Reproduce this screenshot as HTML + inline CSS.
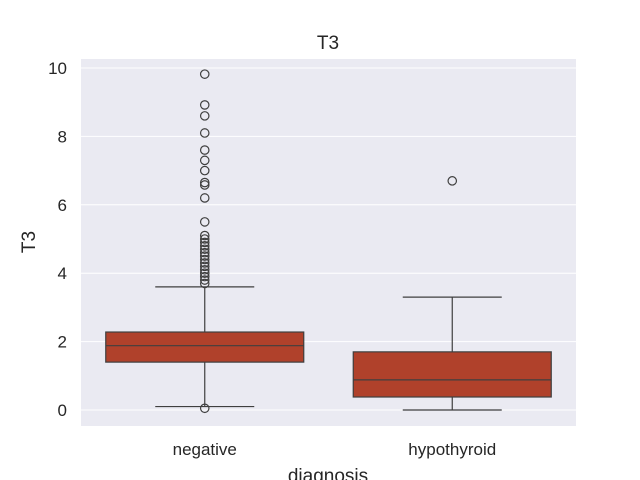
<!DOCTYPE html>
<html><head><meta charset="utf-8"><style>
body{margin:0;background:#fff;font-family:"Liberation Sans","DejaVu Sans",sans-serif}
svg{display:block}
</style></head><body>
<svg id="chart" width="640" height="480"></svg>
<script>
const categories=["negative","hypothyroid"];
const q1=[1.4,0.38];
const median=[1.88,0.88];
const q3=[2.28,1.7];
const whiskerLow=[0.1,0.0];
const whiskerHigh=[3.6,3.3];
const outliersNegative=[9.82,8.92,8.6,8.1,7.6,7.3,7.0,6.65,6.58,6.2,5.5,5.1,5.0,4.9,4.8,4.7,4.6,4.5,4.4,4.3,4.2,4.1,4.0,3.9,3.8,3.7,0.05];
const outliersHypothyroid=[6.7];
const yTicks=[0,2,4,6,8,10];

const NS="http://www.w3.org/2000/svg";
const svg=document.getElementById("chart");
const L=81,R=576,T=59,B=426;
const y=v=>410-v*34.2;
const bandW=(R-L)/categories.length;
const xc=i=>L+bandW*(i+0.5);
function el(tag,a,parent){const e=document.createElementNS(NS,tag);for(const k in a)e.setAttribute(k,a[k]);(parent||svg).appendChild(e);return e;}

const bg=el("rect",{x:L,y:T,width:R-L,height:B-T,fill:"#eaeaf2"});


yTicks.forEach(t=>{
  const g=el("line",{x1:L,x2:R,y1:y(t),y2:y(t),stroke:"#fff","stroke-width":1});
  
  
  const tx=el("text",{x:67,y:y(t)+6,"text-anchor":"end","font-size":17,fill:"#262626"});
  tx.textContent=t;
  
  
});
const allOut=[outliersNegative,outliersHypothyroid];
categories.forEach((c,i)=>{
  const cx=xc(i),hw=bandW*0.4,col="#3f3f3f";
  const g=el("g",{});
  
  
  el("line",{x1:cx,x2:cx,y1:y(q3[i]),y2:y(whiskerHigh[i]),stroke:col,"stroke-width":1.2},g);
  el("line",{x1:cx,x2:cx,y1:y(q1[i]),y2:y(whiskerLow[i]),stroke:col,"stroke-width":1.2},g);
  el("line",{x1:cx-hw/2,x2:cx+hw/2,y1:y(whiskerHigh[i]),y2:y(whiskerHigh[i]),stroke:col,"stroke-width":1.2},g);
  el("line",{x1:cx-hw/2,x2:cx+hw/2,y1:y(whiskerLow[i]),y2:y(whiskerLow[i]),stroke:col,"stroke-width":1.2},g);
  el("rect",{x:cx-hw,y:y(q3[i]),width:2*hw,height:y(q1[i])-y(q3[i]),fill:"#b0412b",stroke:col,"stroke-width":1.2},g);
  el("line",{x1:cx-hw,x2:cx+hw,y1:y(median[i]),y2:y(median[i]),stroke:col,"stroke-width":1.2},g);
  allOut[i].forEach(v=>{
    const o=el("circle",{cx:cx,cy:y(v),r:4.2,fill:"none",stroke:col,"stroke-width":1.2},g);
    
    
  });
  const tx=el("text",{x:cx,y:455,"text-anchor":"middle","font-size":17,fill:"#262626"});
  tx.textContent=c;
  
  
});
const title=el("text",{x:328,y:49,"text-anchor":"middle","font-size":19,fill:"#262626"});
title.textContent="T3";


const xt=el("text",{x:328,y:482,"text-anchor":"middle","font-size":19,fill:"#262626"});
xt.textContent="diagnosis";


const yt=el("text",{x:35,y:242,"text-anchor":"middle","font-size":19,fill:"#262626",transform:"rotate(-90 35 242)"});
yt.textContent="T3";


</script>
</body></html>
